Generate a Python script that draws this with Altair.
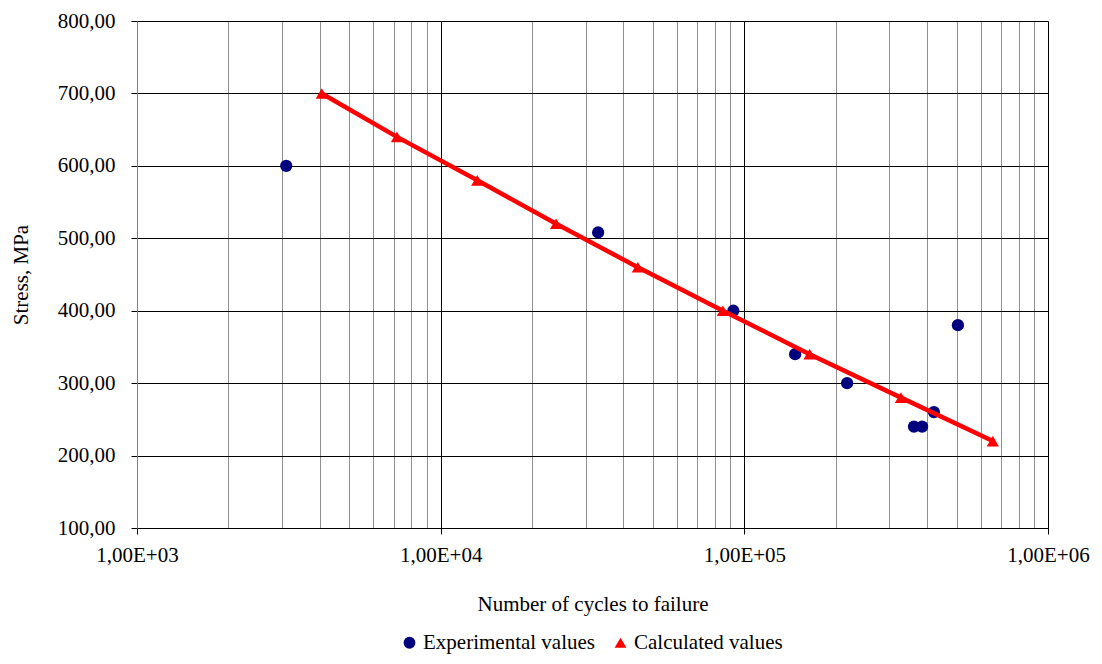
import altair as alt
import pandas as pd

exp_cycles = [3100, 33000, 92000, 147000, 218000, 362000, 385000, 421000, 505000]
exp_stress = [600, 508, 400, 340, 300, 240, 240, 260, 380]

# Calculated data
calc_cycles = [4060, 7180, 13200, 24000, 44600, 85000, 164000, 328000, 658000]
calc_stress = [700, 640, 580, 520, 460, 400, 340, 280, 220]

series_names = ["Experimental values", "Calculated values"]

y_ticks = [100, 200, 300, 400, 500, 600, 700, 800]
x_decades = [1000, 10000, 100000, 1000000]
x_ticks = sorted(set([d * m for d in x_decades[:-1] for m in range(1, 10)] + x_decades))

exp_df = pd.DataFrame({"cycles": exp_cycles, "stress": exp_stress, "series": series_names[0]})
calc_df = pd.DataFrame({"cycles": calc_cycles, "stress": calc_stress, "series": series_names[1]})

FONT = "Liberation Serif"
FS = 21

major_test = "abs(log(datum.value)/LN10 - round(log(datum.value)/LN10)) < 0.001"

x_enc = alt.X(
    "cycles:Q",
    scale=alt.Scale(type="log", domain=[1000, 1000000], nice=False),
    axis=alt.Axis(
        title="Number of cycles to failure",
        values=x_ticks,
        labelExpr=f"{major_test} ? '1,00E+0' + round(log(datum.value)/LN10) : ''",
        labelOverlap=False,
        labelFlush=False,
        labelFont=FONT,
        labelFontSize=FS,
        labelColor="black",
        labelPadding=10,
        titleFont=FONT,
        titleFontSize=FS,
        titleFontWeight="normal",
        titleColor="black",
        titlePadding=28,
        tickSize=6,
        tickColor="black",
        tickOpacity={"condition": {"test": major_test, "value": 1}, "value": 0},
        domainColor="black",
        grid=True,
        gridColor={"condition": {"test": major_test, "value": "black"}, "value": "#8f8f8f"},
        gridWidth=1,
    ),
)

y_enc = alt.Y(
    "stress:Q",
    scale=alt.Scale(domain=[100, 800], nice=False, zero=False),
    axis=alt.Axis(
        title="Stress, MPa",
        values=y_ticks,
        labelExpr="replace(format(datum.value, '.2f'), '.', ',')",
        labelFont=FONT,
        labelFontSize=FS,
        labelColor="black",
        labelPadding=16,
        titleFont=FONT,
        titleFontSize=FS,
        titleFontWeight="normal",
        titleColor="black",
        titleX=-106,
        tickSize=6,
        tickColor="black",
        domainColor="#7f7f7f",
        grid=True,
        gridColor="black",
        gridWidth=1,
    ),
)

color_scale = alt.Scale(domain=series_names, range=["#00007f", "#ff0000"])
shape_scale = alt.Scale(domain=series_names, range=["circle", "triangle-up"])

legend = alt.Legend(
    title=None,
    orient="none",
    direction="horizontal",
    legendX=262,
    legendY=611,
    labelFont=FONT,
    labelFontSize=FS,
    labelColor="black",
    labelLimit=0,
    symbolSize=140,
    symbolOpacity=1,
    columnPadding=14,
    labelOffset=3,
)

exp_layer = alt.Chart(exp_df).mark_point(filled=True, opacity=1, size=150).encode(
    x=x_enc,
    y=y_enc,
    color=alt.Color("series:N", scale=color_scale, legend=legend),
    shape=alt.Shape("series:N", scale=shape_scale, legend=legend),
)

line_layer = alt.Chart(calc_df).mark_line(color="#ff0000", strokeWidth=4.5).encode(
    x=x_enc,
    y=y_enc,
)

calc_layer = alt.Chart(calc_df).mark_point(filled=True, opacity=1, size=150).encode(
    x=x_enc,
    y=y_enc,
    color=alt.Color("series:N", scale=color_scale, legend=legend),
    shape=alt.Shape("series:N", scale=shape_scale, legend=legend),
)

chart = (
    alt.layer(exp_layer, line_layer, calc_layer)
    .properties(
        width=911,
        height=507,
        autosize=alt.AutoSizeParams(type="none"),
        padding={"left": 129, "top": 13, "right": 46, "bottom": 128},
        background="white",
    )
    .configure_view(stroke=None)
)

chart.save("out.html", embed_options={"renderer": "svg", "actions": False})
